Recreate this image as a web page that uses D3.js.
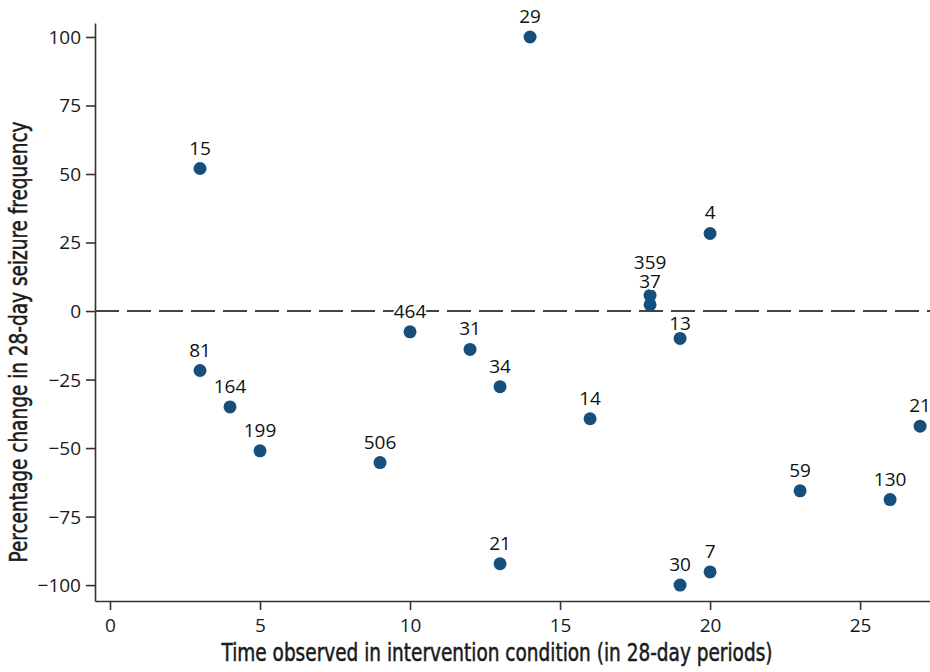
<!DOCTYPE html>
<html>
<head>
<meta charset="utf-8">
<script src="https://cdn.jsdelivr.net/npm/d3@7"></script>
<style>
  body { margin: 0; background: #fff; }
  svg { display: block; }
  .tick text { font-family: "Open Sans", "Noto Sans", sans-serif; font-size: 19px; fill: #1a1a1a; }
  .tick line, .domain { stroke: #333; stroke-width: 1.6; }
  .axis-title { font-family: "Liberation Sans Narrow", "DejaVu Sans Condensed", sans-serif; font-size: 24px; fill: #1a1a1a; stroke: #1a1a1a; stroke-width: 0.5px; }
</style>
</head>
<body>
<div id="chart"></div>
<script>
// months observed (28-day periods), % change, and the label printed over each point
const periods = [3, 3, 4, 5, 9, 10, 12, 13, 13, 14, 16, 18, 18, 19, 19, 20, 20, 23, 26, 27];
const pctChange = [52, -21.7, -35, -51, -55.3, -7.6, -14, -27.6, -92.2, 100, -39.3, 5.7, 2.3, -10, -100, 28.3, -95.2, -65.6, -68.8, -42];
const pointLabels = ['15', '81', '164', '199', '506', '464', '31', '34', '21', '29', '14', '359', '37', '13', '30', '4', '7', '59', '130', '21'];
const xTicks = [0, 5, 10, 15, 20, 25];
const yTicks = [-100, -75, -50, -25, 0, 25, 50, 75, 100];

const width = 930;
const height = 672;
const plotLeft = 95, plotRight = 930, plotTop = 23, plotBottom = 601;

const svg = d3.select('#chart')
  .append('svg')
  .attr('width', width)
  .attr('height', height);

const x = d3.scaleLinear().domain([-0.5, 27.33]).range([plotLeft, plotRight]);
const y = d3.scaleLinear().domain([-105.8, 105.1]).range([plotBottom, plotTop]);

svg.append('g')
  .attr('transform', `translate(${plotLeft},0)`)
  .call(d3.axisLeft(y).tickValues(yTicks).tickSize(9).tickSizeOuter(0).tickPadding(5)
    .tickFormat(d => d < 0 ? '\u2212' + Math.abs(d) : d))
  .call(g => g.selectAll('.tick text').attr('dy', '0.34em'));

svg.append('g')
  .attr('transform', `translate(0,${plotBottom})`)
  .call(d3.axisBottom(x).tickValues(xTicks).tickSize(9).tickSizeOuter(0).tickPadding(6))
  .call(g => g.selectAll('.tick text').attr('dy', '0.85em'));

// reference line at zero change
svg.append('line')
  .attr('x1', plotLeft).attr('x2', plotRight)
  .attr('y1', y(0)).attr('y2', y(0))
  .attr('stroke', '#444')
  .attr('stroke-width', 2)
  .attr('stroke-dasharray', '24,8');

const rows = periods.map((p, i) => ({ p, v: pctChange[i], lab: pointLabels[i], i }));

svg.append('g')
  .selectAll('circle')
  .data(rows)
  .enter()
  .append('circle')
  .attr('cx', d => x(d.p))
  .attr('cy', d => y(d.v))
  .attr('r', 6.5)
  .attr('fill', '#174f7c');

// the two points at 18 sit almost on top of each other, so spread their labels;
// the label of point 13 sits lower to stay under the dashed line
const nudge = { 11: -12, 12: -3, 13: 6 };

svg.append('g')
  .selectAll('text')
  .data(rows)
  .enter()
  .append('text')
  .attr('x', d => x(d.p))
  .attr('y', d => y(d.v) - 14 + (nudge[d.i] || 0))
  .attr('text-anchor', 'middle')
  .style('font-family', '"Open Sans", "Noto Sans", sans-serif')
  .style('font-size', '19px')
  .style('fill', '#111')
  .style('stroke', '#fff')
  .style('stroke-width', 4)
  .style('paint-order', 'stroke')
  .text(d => d.lab);

svg.append('text')
  .attr('class', 'axis-title')
  .attr('x', 497)
  .attr('y', 661)
  .attr('text-anchor', 'middle')
  .attr('textLength', 551)
  .attr('lengthAdjust', 'spacingAndGlyphs')
  .text('Time observed in intervention condition (in 28-day periods)');

svg.append('text')
  .attr('class', 'axis-title')
  .attr('transform', 'translate(27,342) rotate(-90)')
  .attr('text-anchor', 'middle')
  .attr('textLength', 441)
  .attr('lengthAdjust', 'spacingAndGlyphs')
  .text('Percentage change in 28-day seizure frequency');
</script>
</body>
</html>
